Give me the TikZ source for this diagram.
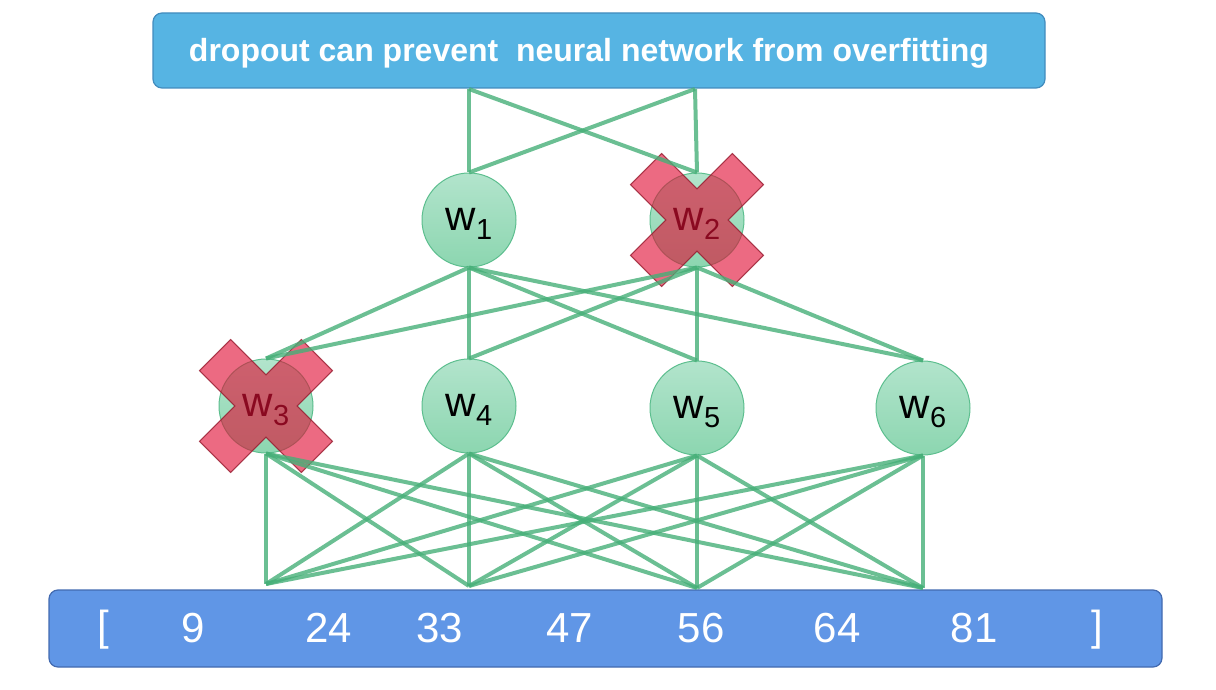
\documentclass[tikz,border=0pt]{standalone}
\usepackage{fontspec}
\setmainfont{Liberation Sans}
\usepackage{tikz}
\usetikzlibrary{positioning}

\definecolor{titleblue}{RGB}{86,180,227}
\definecolor{titleedge}{RGB}{66,140,190}
\definecolor{inputblue}{RGB}{96,150,230}
\definecolor{inputedge}{RGB}{66,106,176}
\definecolor{celltop}{RGB}{178,228,204}
\definecolor{cellbot}{RGB}{140,214,176}
\definecolor{celledge}{RGB}{92,190,142}
\definecolor{linkgreen}{RGB}{70,175,120}
\definecolor{dropred}{RGB}{224,15,53}
\definecolor{dropedge}{RGB}{150,25,45}

\newcommand{\wsub}[2]{#1\raisebox{-0.22em}{\fontsize{29}{29}\selectfont #2}}

\begin{document}
\begin{tikzpicture}[x=1pt, y=-1pt,
    banner/.style={draw=titleedge, fill=titleblue, rounded corners=9pt, line width=1.2pt, minimum width=892pt, minimum height=75pt, text height=29pt, text depth=6.7pt, text=white, font=\fontsize{32}{38}\selectfont\bfseries},
    inputbar/.style={draw=inputedge, fill=inputblue, rounded corners=9pt, line width=1.2pt, minimum width=1113pt, minimum height=77pt},
    num/.style={text=white, font=\fontsize{42}{44}\selectfont},
    cell/.style={circle, draw=celledge, line width=1pt, top color=celltop, bottom color=cellbot, minimum size=94pt, inner sep=0pt, text height=30pt, text depth=9pt, font=\fontsize{42}{44}\selectfont},
    dropx/.style={draw=dropedge, line width=1pt, fill=dropred, fill opacity=0.62, draw opacity=0.8},
    link/.style={draw=linkgreen, line width=4pt, draw opacity=0.8}]

    \useasboundingbox (0,0) rectangle (1216,690);

    % boxes at the top and the bottom
    \node[banner] (title) at (599,50.5) {dropout can prevent\ \ neural network from overfitting\hspace*{20pt}};
    \node[inputbar] (input) at (605.5,628.5) {};

    \node[num] (lb) at (103,630) {[};
    \node[num] (n9) at (193,628) {9};
    \node[num] (n24) at (329,628) {24};
    \node[num] (n33) at (440,628) {33};
    \node[num] (n47) at (570,628) {47};
    \node[num] (n56) at (701,628) {56};
    \node[num] (n64) at (837,628) {64};
    \node[num] (n81) at (974,628) {81};
    \node[num] (rb) at (1097,630) {]};

    % the weights
    \node[cell] (w1) at (469,220) {\wsub{w}{1}};
    \node[cell] (w2) at (697,220) {\wsub{w}{2}};
    \node[cell] (w3) at (266,406) {\wsub{w}{3}};
    \node[cell] (w4) at (469,406) {\wsub{w}{4}};
    \node[cell] (w5) at (697,408) {\wsub{w}{5}};
    \node[cell] (w6) at (923,408) {\wsub{w}{6}};

    % dropped weights
    \path[dropx, shift={(w2)}, rotate=45] (-22,72) -- (22,72) -- (22,22) -- (72,22) -- (72,-22) -- (22,-22) -- (22,-72) -- (-22,-72) -- (-22,-22) -- (-72,-22) -- (-72,22) -- (-22,22) -- cycle;
    \path[dropx, shift={(w3)}, rotate=45] (-22,72) -- (22,72) -- (22,22) -- (72,22) -- (72,-22) -- (22,-22) -- (22,-72) -- (-22,-72) -- (-22,-22) -- (-72,-22) -- (-72,22) -- (-22,22) -- cycle;

    \coordinate (t1) at (469,89);
    \coordinate (t2) at (695,89);
    \coordinate (x1) at (266,584);
    \coordinate (x2) at (469,586);
    \coordinate (x3) at (697,588);
    \coordinate (x4) at (923,588);

    % connections
    \path[link] (t1) -- (w1.north); \path[link] (t1) -- (w2.north);
    \path[link] (t2) -- (w1.north); \path[link] (t2) -- (w2.north);

    \path[link] (w1.south) -- (w3.north); \path[link] (w1.south) -- (w4.north); \path[link] (w1.south) -- (w5.north); \path[link] (w1.south) -- (w6.north);
    \path[link] (w2.south) -- (w3.north); \path[link] (w2.south) -- (w4.north); \path[link] (w2.south) -- (w5.north); \path[link] (w2.south) -- (w6.north);

    \path[link] (w3.south) -- (x1); \path[link] (w3.south) -- (x2); \path[link] (w3.south) -- (x3); \path[link] (w3.south) -- (x4);
    \path[link] (w4.south) -- (x1); \path[link] (w4.south) -- (x2); \path[link] (w4.south) -- (x3); \path[link] (w4.south) -- (x4);
    \path[link] (w5.south) -- (x1); \path[link] (w5.south) -- (x2); \path[link] (w5.south) -- (x3); \path[link] (w5.south) -- (x4);
    \path[link] (w6.south) -- (x1); \path[link] (w6.south) -- (x2); \path[link] (w6.south) -- (x3); \path[link] (w6.south) -- (x4);

\end{tikzpicture}
\end{document}
